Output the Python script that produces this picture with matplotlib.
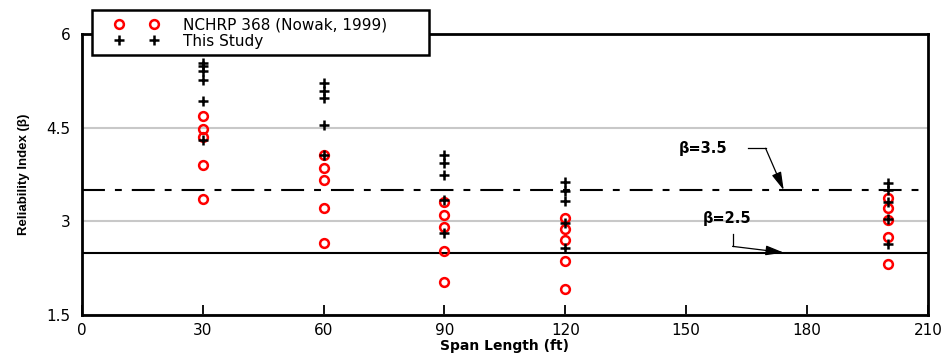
import numpy as np
import matplotlib.pyplot as plt
from matplotlib.patches import Rectangle

plt.rcParams['font.family'] = ['DejaVu Sans']

# NCHRP 368 (Nowak, 1999)
nowak_span = [30, 30, 30, 30, 30,
              60, 60, 60, 60, 60,
              90, 90, 90, 90, 90,
              120, 120, 120, 120, 120,
              200, 200, 200, 200, 200]
nowak_beta = [4.69, 4.48, 4.35, 3.90, 3.36,
              4.06, 3.85, 3.66, 3.22, 2.66,
              3.31, 3.10, 2.91, 2.52, 2.03,
              3.06, 2.87, 2.70, 2.36, 1.91,
              3.38, 3.22, 3.02, 2.75, 2.31]

# This Study
study_span = [30, 30, 30, 30, 30, 30,
              60, 60, 60, 60, 60,
              90, 90, 90, 90, 90,
              120, 120, 120, 120, 120,
              200, 200, 200, 200, 200]
study_beta = [5.54, 5.48, 5.41, 5.27, 4.93, 4.31,
              5.21, 5.09, 4.97, 4.54, 4.06,
              4.06, 3.94, 3.74, 3.34, 2.82,
              3.63, 3.49, 3.33, 2.98, 2.57,
              3.62, 3.50, 3.31, 3.03, 2.63]

beta_target = 3.5
beta_min = 2.5

x_ticks = [0, 30, 60, 90, 120, 150, 180, 210]
y_ticks = [1.5, 3, 4.5, 6]

fig = plt.figure(figsize=(9.45, 3.56), dpi=100)
ax = fig.add_axes([0.0865, 0.115, 0.8955, 0.7895])

ax.set_xlim(0, 210)
ax.set_ylim(1.5, 6)
ax.set_xticks(x_ticks)
ax.set_yticks(y_ticks)
ax.set_xticklabels([str(t) for t in x_ticks])
ax.set_yticklabels(['1.5', '3', '4.5', '6'])
ax.tick_params(axis='x', direction='in', length=7, width=1.3, labelsize=11, pad=5.5)
ax.tick_params(axis='y', length=0, labelsize=11, pad=8)
ax.yaxis.grid(True, color='#c8c8c8', linewidth=1.5)
ax.set_axisbelow(True)
for s in ax.spines.values():
    s.set_linewidth(2)

# reference lines
l1, = ax.plot([0, 210], [beta_target, beta_target], color='black', linewidth=1.5)
l1.set_dashes([11, 4.8, 3.3, 4.8])
ax.plot([0, 210], [beta_min, beta_min], color='black', linewidth=1.5)

ax.plot(nowak_span, nowak_beta, linestyle='none', marker='o', markersize=6.3,
        markerfacecolor='none', markeredgecolor='red', markeredgewidth=1.8,
        label='NCHRP 368 (Nowak, 1999)', zorder=3)
ax.plot(study_span, study_beta, linestyle='none', marker='+', markersize=6.5,
        color='black', markeredgewidth=1.8, label='This Study', zorder=4)

# annotations
arrow = dict(arrowstyle='-|>,head_length=1.1,head_width=0.3',
             color='black', lw=0.9, shrinkA=0, shrinkB=0)
ax.text(154.2, 4.17, 'β=3.5', fontsize=10.5, fontweight='bold',
        ha='center', va='center')
ax.plot([165.3, 169.7], [4.17, 4.17], color='black', linewidth=0.9)
ax.annotate('', xy=(174.2, beta_target), xytext=(169.7, 4.17), arrowprops=arrow)
ax.text(160.1, 3.05, 'β=2.5', fontsize=10.5, fontweight='bold',
        ha='center', va='center')
ax.plot([161.5, 161.5], [2.79, 2.60], color='black', linewidth=0.9)
ax.annotate('', xy=(174.2, beta_min), xytext=(161.5, 2.60), arrowprops=arrow)

ax.set_xlabel('Span Length (ft)', fontsize=10, fontweight='bold', labelpad=1)
ax.set_ylabel('Reliability Index (β)', fontsize=9.5, fontweight='bold',
              family='Liberation Sans', labelpad=12)

# legend box drawn by hand, sits over the top-left corner of the axes
box = Rectangle((92 / 945, 1 - 55 / 356), (429 - 92) / 945, 45 / 356,
                transform=fig.transFigure, facecolor='white', edgecolor='black',
                linewidth=1.8, zorder=4)
fig.patches.append(box)
leg = fig.legend(loc='upper left', bbox_to_anchor=(114 / 945, 1 - 17 / 356), numpoints=2,
                 fontsize=11, frameon=False, labelspacing=0.1, borderpad=0,
                 handlelength=2.9, handletextpad=1.6, borderaxespad=0)
leg.set_zorder(6)

fig.savefig('out.png', dpi=100)
